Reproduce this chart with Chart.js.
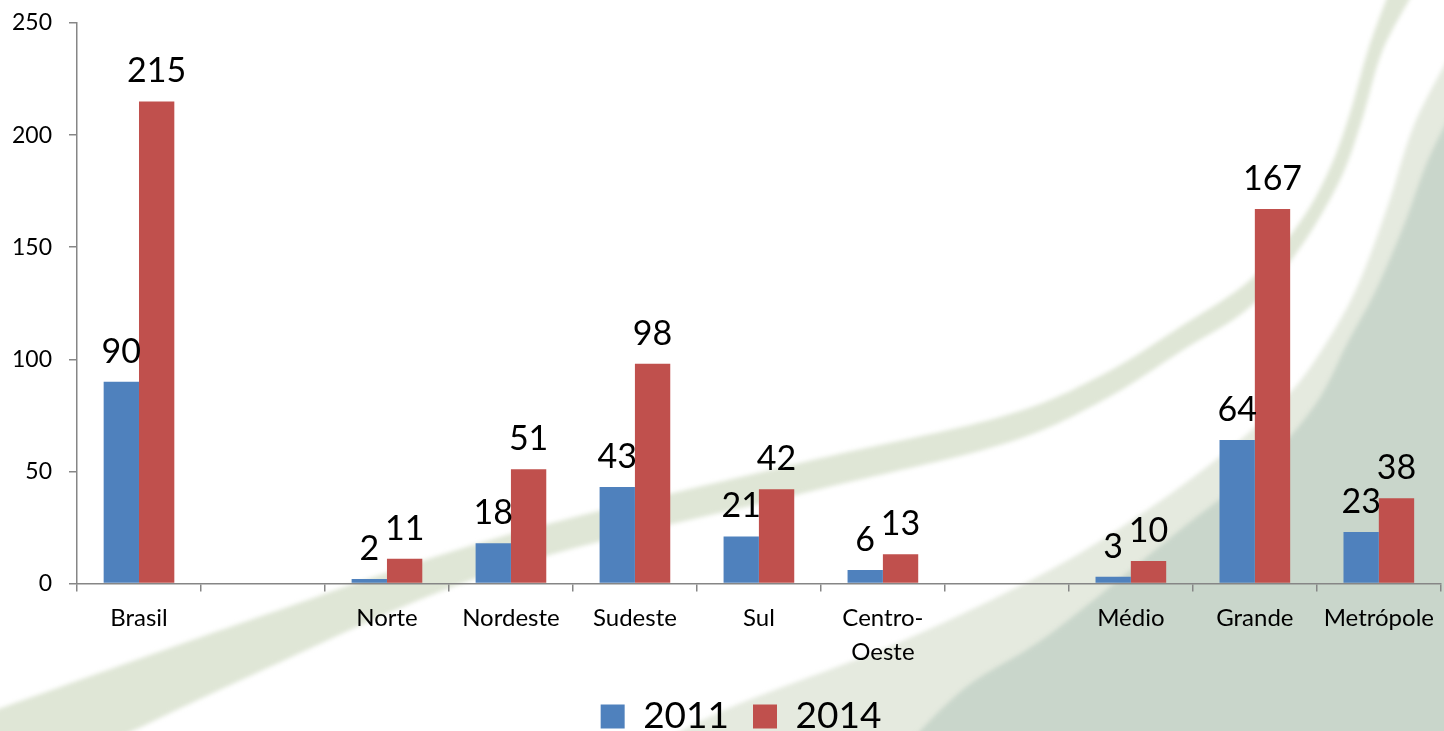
<!DOCTYPE html>
<html><head><meta charset="utf-8">
<script src="https://cdn.jsdelivr.net/npm/chart.js@4"></script>
<style>
html,body{margin:0;padding:0;overflow:hidden;background:#fff}
#wrap{position:relative;width:1444px;height:745px}
</style>
</head><body>
<div id="wrap"><canvas id="c"></canvas></div>
<script>
// ---- data ----
const categories = ['Brasil', '', 'Norte', 'Nordeste', 'Sudeste', 'Sul', ['Centro-', 'Oeste'], '', 'Médio', 'Grande', 'Metrópole'];
const seriesNames = ['2011', '2014'];
const values2011 = [90, null, 2, 18, 43, 21, 6, null, 3, 64, 23];
const values2014 = [215, null, 11, 51, 98, 42, 13, null, 10, 167, 38];
const yMin = 0, yMax = 250, yStep = 50;

// ---- decorative background (swooshes) ----
const decoBandAUpper = [[-10,712],[250,620],[500,537],[800,463],[1000,417],[1100,376],[1183,325],[1250,280],[1300,222],[1330,168],[1350,113],[1368,50],[1388,-5]];
const decoBandALower = [[-10,800],[250,676],[500,570],[800,494],[1000,445],[1100,402],[1183,350],[1250,307],[1300,248],[1340,180],[1362,120],[1382,52],[1412,-5]];
const decoBandBOuter = [[1450,55],[1414,125],[1388,205],[1358,285],[1325,345],[1288,395],[1228,450],[1150,508],[1050,570],[900,642],[720,712],[600,775]];
const decoDarkEdge = [[1450,115],[1426,165],[1404,225],[1376,290],[1348,342],[1315,405],[1262,465],[1180,530],[1050,634],[960,692],[880,775]];

function smoothPath(ctx, pts, move) {
  if (move) ctx.moveTo(pts[0][0], pts[0][1]); else ctx.lineTo(pts[0][0], pts[0][1]);
  for (let i = 0; i < pts.length - 1; i++) {
    const p0 = pts[i-1] || pts[i], p1 = pts[i], p2 = pts[i+1], p3 = pts[i+2] || p2;
    ctx.bezierCurveTo(p1[0] + (p2[0]-p0[0])/6, p1[1] + (p2[1]-p0[1])/6,
                      p2[0] - (p3[0]-p1[0])/6, p2[1] - (p3[1]-p1[1])/6, p2[0], p2[1]);
  }
}

const backgroundPlugin = {
  id: 'bg',
  afterLayout(chart) {
    // centre the legend a little right of the canvas centre, as in the reference
    if (chart.legend) { chart.legend.left += 38; }
  },
  beforeDraw(chart) {
    const ctx = chart.ctx, W = chart.width, H = chart.height;
    ctx.save();
    ctx.fillStyle = '#ffffff';
    ctx.fillRect(0, 0, W, H);
    ctx.filter = 'blur(2px)';
    ctx.beginPath();
    smoothPath(ctx, decoBandAUpper, true);
    smoothPath(ctx, decoBandALower.slice().reverse(), false);
    ctx.closePath();
    ctx.fillStyle = '#dfe6d6';
    ctx.fill();
    ctx.beginPath();
    smoothPath(ctx, decoBandBOuter, true);
    ctx.lineTo(W + 10, H + 10);
    ctx.lineTo(W + 10, 40);
    ctx.closePath();
    ctx.fillStyle = '#e5eadf';
    ctx.fill();
    ctx.beginPath();
    smoothPath(ctx, decoDarkEdge, true);
    ctx.lineTo(W + 10, H + 10);
    ctx.lineTo(W + 10, 110);
    ctx.closePath();
    ctx.fillStyle = '#c9d6cb';
    ctx.fill();
    ctx.restore();
  }
};

const valueLabelPlugin = {
  id: 'valueLabels',
  afterDatasetsDraw(chart) {
    const ctx = chart.ctx;
    ctx.save();
    ctx.font = '34px Lato';
    ctx.fillStyle = '#000';
    ctx.textAlign = 'center';
    ctx.textBaseline = 'alphabetic';
    chart.data.datasets.forEach((ds, i) => {
      chart.getDatasetMeta(i).data.forEach((el, j) => {
        const v = ds.data[j];
        if (v === null || v === undefined) return;
        ctx.fillText(String(v), el.x, el.y - 19);
      });
    });
    ctx.restore();
  }
};

const axisGray = '#868686';

new Chart(document.getElementById('c'), {
  type: 'bar',
  data: {
    labels: categories,
    datasets: [
      { label: seriesNames[0], data: values2011, backgroundColor: '#4f81bd', categoryPercentage: 0.57, barPercentage: 1 },
      { label: seriesNames[1], data: values2014, backgroundColor: '#c0504d', categoryPercentage: 0.57, barPercentage: 1 }
    ]
  },
  options: {
    responsive: true,
    maintainAspectRatio: false,
    animation: false,
    layout: { padding: { top: 23, left: 0, right: 0, bottom: 0 } },
    plugins: {
      legend: {
        position: 'bottom',
        labels: {
          font: { family: 'Lato', size: 37 },
          color: '#000',
          boxWidth: 24,
          boxHeight: 24,
          padding: 24
        }
      },
      tooltip: { enabled: false }
    },
    scales: {
      x: {
        afterFit(s) { s.height = 90.5; },
        border: { color: axisGray, width: 1.5 },
        grid: { drawOnChartArea: false, drawTicks: true, tickLength: 8, color: axisGray, offset: true, lineWidth: 1.5 },
        ticks: { color: '#000', font: { family: 'Lato', size: 24, lineHeight: 1.4 }, padding: 10, autoSkip: false, maxRotation: 0, minRotation: 0 }
      },
      y: {
        min: yMin, max: yMax,
        afterFit(s) { s.width = 77; s.paddingTop = 0; s.paddingBottom = 0; },
        border: { color: axisGray, width: 1.5 },
        grid: { drawOnChartArea: false, drawTicks: true, tickLength: 8, color: axisGray, lineWidth: 1.5 },
        ticks: { stepSize: yStep, color: '#000', font: { family: 'Lato', size: 23, lineHeight: 0.6 }, padding: 17 }
      }
    }
  },
  plugins: [backgroundPlugin, valueLabelPlugin]
});
</script>
</body></html>
